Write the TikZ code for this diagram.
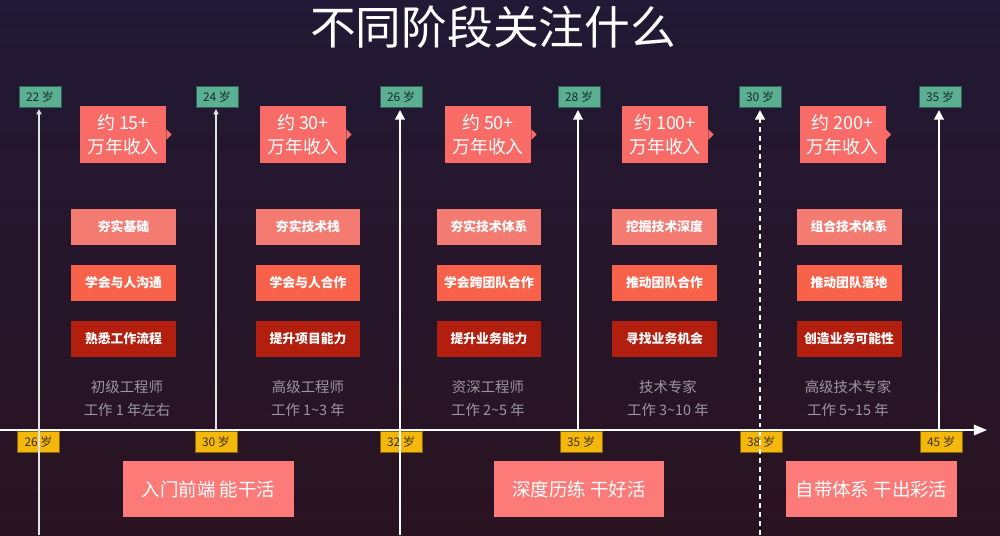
\documentclass[tikz,border=0pt]{standalone}
\usepackage{fontspec}
\setmainfont{Noto Sans CJK SC}
\usepackage{tikz}
\usetikzlibrary{arrows.meta}
\definecolor{bgtop}{HTML}{211935}
\definecolor{bgbot}{HTML}{2A1321}
\definecolor{agegreen}{HTML}{5BB094}
\definecolor{ageyellow}{HTML}{F4B80C}
\definecolor{paycoral}{HTML}{F96B66}
\definecolor{skilla}{HTML}{F47B72}
\definecolor{skillb}{HTML}{F8624B}
\definecolor{skillc}{HTML}{B31F0F}
\definecolor{stagepink}{HTML}{FC7A77}
\definecolor{rolegray}{HTML}{9C95A3}

\begin{document}
\begin{tikzpicture}[x=0.02cm, y=-0.02cm, every node/.style={inner sep=0pt},
    age/.style={draw=#1!55!black, fill=#1, text=#1!25!black, line width=0.4pt,
      minimum width=0.84cm, minimum height=0.42cm, font=\fontsize{6.8}{7}\selectfont},
    pay/.style={fill=paycoral, text=white, align=center, inner xsep=3pt,
      minimum width=1.72cm, minimum height=1.14cm, font=\fontsize{10.2}{13.6}\selectfont},
    skill/.style={fill=#1, text=white, minimum width=2.1cm, minimum height=0.71cm,
      font=\bfseries\fontsize{7.3}{8}\selectfont},
    role/.style={text=rolegray, align=center, font=\fontsize{8.2}{13}\selectfont},
    stage/.style={fill=stagepink, text=white, minimum width=3.42cm, minimum height=1.12cm,
      font=\fontsize{10.5}{12}\selectfont},
    ageline/.style={draw=white!78!gray, line width=0.6pt, shorten >=1pt,
      -{Triangle[length=3pt,width=3pt]}},
    bigline/.style={draw=white, line width=1.1pt, shorten >=1.5pt,
      -{Triangle[length=5.5pt,width=5.5pt]}},
    axis/.style={draw=white, line width=1pt, -{Triangle[length=7.5pt,width=6pt]}}]
  % background
  \shade[top color=bgtop, bottom color=bgbot] (0,0) rectangle (1000,535);
  \useasboundingbox (0,0) rectangle (1000,535);

  \node[text=white, font=\fontsize{26}{28}\selectfont] (title) at (493,27) {不同阶段关注什么};

  % ages on top
  \node[age=agegreen] (t1) at (40,96.5) {22 岁};
  \node[age=agegreen] (t2) at (217,96.5) {24 岁};
  \node[age=agegreen] (t3) at (401,96.5) {26 岁};
  \node[age=agegreen] (t4) at (579,96.5) {28 岁};
  \node[age=agegreen] (t5) at (760,96.5) {30 岁};
  \node[age=agegreen] (t6) at (940,96.5) {35 岁};

  % ages below the axis
  \node[age=ageyellow] (b1) at (38.5,442) {26 岁};
  \node[age=ageyellow] (b2) at (216,442) {30 岁};
  \node[age=ageyellow] (b3) at (401,442) {32 岁};
  \node[age=ageyellow] (b4) at (581,442) {35 岁};
  \node[age=ageyellow] (b5) at (761,442) {38 岁};
  \node[age=ageyellow] (b6) at (941,442) {45 岁};

  % income
  \node[pay] (p1) at (123,134.5) {约 15+\\万年收入};
  \node[pay] (p2) at (303,134.5) {约 30+\\万年收入};
  \node[pay] (p3) at (488,134.5) {约 50+\\万年收入};
  \node[pay] (p4) at (665,134.5) {约 100+\\万年收入};
  \node[pay] (p5) at (842.5,134.5) {约 200+\\万年收入};
  \foreach \p in {p1,p2,p3,p4,p5}
    \fill[paycoral] ([yshift=3pt]\p.east) -- ++(3pt,-3pt) -- ([yshift=-3pt]\p.east) -- cycle;

  % skills
  \node[skill=skilla] (s11) at (123.5,227) {夯实基础};
  \node[skill=skillb] (s12) at (123.5,283) {学会与人沟通};
  \node[skill=skillc] (s13) at (123.5,339) {熟悉工作流程};
  \node[skill=skilla] (s21) at (308,227) {夯实技术栈};
  \node[skill=skillb] (s22) at (308,283) {学会与人合作};
  \node[skill=skillc] (s23) at (308,339) {提升项目能力};
  \node[skill=skilla] (s31) at (489,227) {夯实技术体系};
  \node[skill=skillb] (s32) at (489,283) {学会跨团队合作};
  \node[skill=skillc] (s33) at (489,339) {提升业务能力};
  \node[skill=skilla] (s41) at (664.5,227) {挖掘技术深度};
  \node[skill=skillb] (s42) at (664.5,283) {推动团队合作};
  \node[skill=skillc] (s43) at (664.5,339) {寻找业务机会};
  \node[skill=skilla] (s51) at (849,227) {组合技术体系};
  \node[skill=skillb] (s52) at (849,283) {推动团队落地};
  \node[skill=skillc] (s53) at (849,339) {创造业务可能性};

  % roles
  \node[role] (r1) at (127,398.5) {初级工程师\\工作 1 年左右};
  \node[role] (r2) at (308,398.5) {高级工程师\\工作 1\textasciitilde3 年};
  \node[role] (r3) at (488,398.5) {资深工程师\\工作 2\textasciitilde5 年};
  \node[role] (r4) at (668,398.5) {技术专家\\工作 3\textasciitilde10 年};
  \node[role] (r5) at (848,398.5) {高级技术专家\\工作 5\textasciitilde15 年};

  % stages
  \node[stage] (g1) at (208.5,489) {入门前端 能干活};
  \node[stage] (g2) at (579,489) {深度历练 干好活};
  \node[stage] (g3) at (871.5,489) {自带体系 干出彩活};

  % axis and age lines
  \coordinate (o) at (0,430);
  \coordinate (e) at (987,430);
  \draw[axis] (o) -- (e);
  \coordinate (a1) at (39,535);
  \coordinate (a2) at (216,430);
  \coordinate (a3) at (400,535);
  \coordinate (a4) at (578,430);
  \coordinate (a5) at (760,535);
  \coordinate (a6) at (939,430);
  \foreach \x/\y in {a1/t1,a2/t2}
    \draw[ageline] (\x) -- (\x |- \y.south);
  \foreach \x/\y in {a3/t3,a4/t4,a6/t6}
    \draw[bigline] (\x) -- (\x |- \y.south);
  \draw[bigline, line width=1.4pt, dash pattern=on 2.8pt off 2.3pt] (a5) -- (a5 |- t5.south);
\end{tikzpicture}
\end{document}
